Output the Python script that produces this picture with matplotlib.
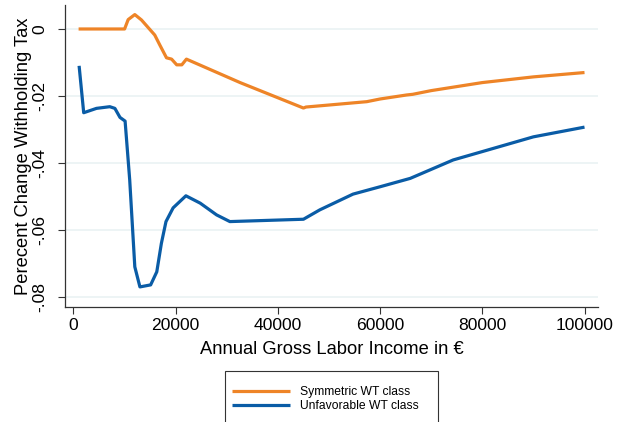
import numpy as np
import matplotlib.pyplot as plt
from matplotlib.patches import Rectangle

plt.rcParams['font.family'] = ['Liberation Sans', 'DejaVu Sans']

# income grid and percent change, symmetric WT class
inc_sym = [1000, 10000, 10700, 12000, 13300, 15900, 16900, 18200, 19200, 20200,
           21200, 22100, 32600, 45000, 45500, 50000, 57400, 60000, 65200, 66400,
           70000, 80000, 90000, 100000]
pct_sym = [0.0, 0.0, 0.0028, 0.0043, 0.0027, -0.0018, -0.0048, -0.0086, -0.0090, -0.0107,
           -0.0107, -0.0090, -0.0160, -0.0236, -0.0233, -0.0227, -0.0217, -0.0209, -0.0197, -0.0195,
           -0.0184, -0.0160, -0.0143, -0.0130]

# income grid and percent change, unfavorable WT class
inc_unf = [1100, 2000, 4500, 7100, 8100, 9100, 10100, 11000, 12000, 13000,
           15100, 16300, 17200, 18100, 19500, 22000, 24800, 28000, 30600, 45000, 48200,
           54700, 60000, 65900, 74300, 80000, 90000, 100000]
pct_unf = [-0.0110, -0.0250, -0.0237, -0.0232, -0.0237, -0.0264, -0.0275, -0.0450, -0.0710, -0.0770,
           -0.0764, -0.0725, -0.0640, -0.0575, -0.0534, -0.0498, -0.0520, -0.0555, -0.0575, -0.0568, -0.0540,
           -0.0493, -0.0471, -0.0446, -0.0391, -0.0366, -0.0322, -0.0293]

xticks = [0, 20000, 40000, 60000, 80000, 100000]
yticks = [0, -0.02, -0.04, -0.06, -0.08]
ytick_labels = ['0', '-.02', '-.04', '-.06', '-.08']

orange = '#EE8427'
blue = '#0A5CA6'

W, H = 618, 422
fig = plt.figure(figsize=(W / 100, H / 100), dpi=100)
ax = fig.add_axes([65 / W, 1 - 307 / H, 533 / W, 302 / H])

ax.plot(inc_sym, pct_sym, color=orange, lw=2.3, label='Symmetric WT class',
        solid_joinstyle='round', solid_capstyle='butt')
ax.plot(inc_unf, pct_unf, color=blue, lw=2.3, label='Unfavorable WT class',
        solid_joinstyle='round', solid_capstyle='butt')

ax.set_xlim(-1660, 102640)
ax.set_ylim(-0.083, 0.00716)

ax.set_xticks(xticks)
ax.set_xticklabels([str(t) for t in xticks])
ax.set_yticks(yticks)
ax.set_yticklabels(ytick_labels, rotation=90, va='center')

for y in yticks:
    ax.axhline(y, color='#eaf2f3', lw=1.2, zorder=0)

for s in ['top', 'right']:
    ax.spines[s].set_visible(False)
for s in ['left', 'bottom']:
    ax.spines[s].set_color('#333333')
    ax.spines[s].set_linewidth(0.9)

ax.tick_params(axis='both', direction='out', length=5, width=0.8, color='#333333',
               labelsize=12.6, pad=3)
ax.tick_params(axis='y', pad=8)

ax.set_xlabel('Annual Gross Labor Income in €', fontsize=13.2, labelpad=6)
ax.set_ylabel('Perecent Change Withholding Tax', fontsize=13.2, labelpad=0)

# legend entries without a frame, box drawn separately so it runs off the bottom edge
leg = fig.legend(loc='upper left', bbox_to_anchor=(232 / W, 1 - 386 / H),
                 fontsize=8.7, handlelength=4.8, handletextpad=0.8,
                 labelspacing=0.2, borderpad=0.0, borderaxespad=0.0, frameon=False)
fig.patches.append(Rectangle((225 / W, -0.05), 213 / W, 0.05 + 1 - 371 / H,
                             transform=fig.transFigure, fill=False,
                             edgecolor='#333333', lw=0.8))

plt.savefig('out.png', dpi=100)
